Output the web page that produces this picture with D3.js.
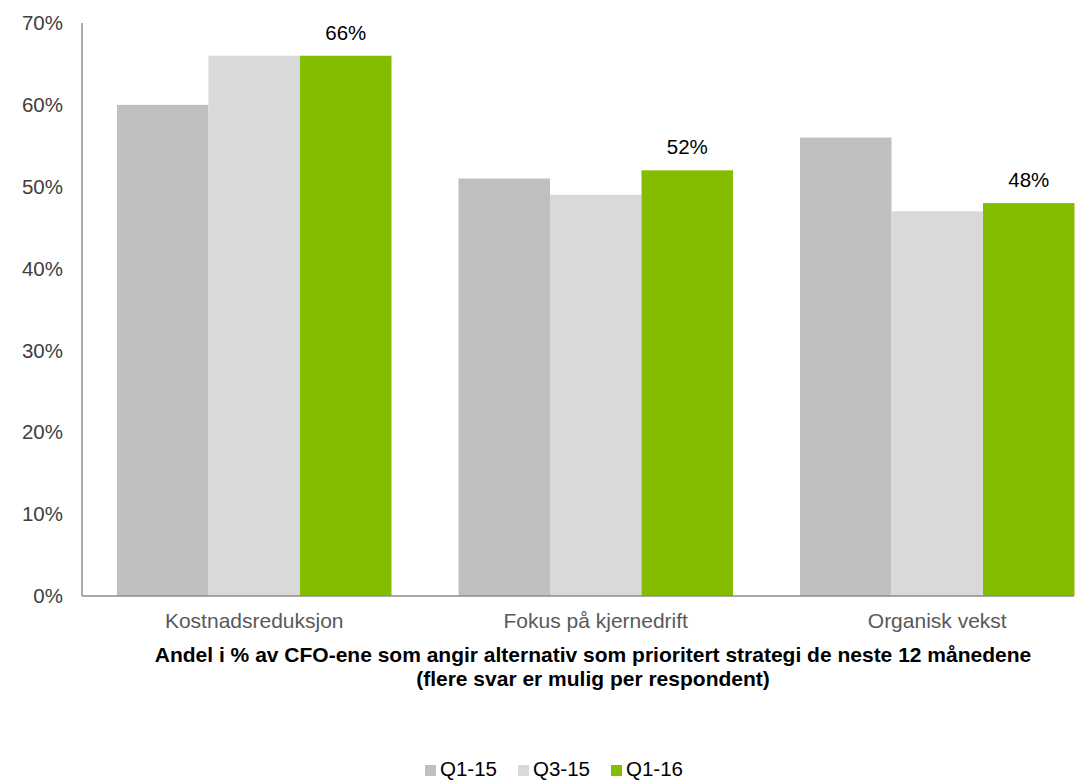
<!DOCTYPE html>
<html>
<head>
<meta charset="utf-8">
<script src="https://cdn.jsdelivr.net/npm/d3@7"></script>
<style>
  html, body { margin: 0; padding: 0; background: #fff; }
  svg { display: block; font-family: "Liberation Sans", Arial, sans-serif; }
</style>
</head>
<body>
<svg id="chart" width="1085" height="780"></svg>
<script>
// Strategies asked about in the survey
const categories = ["Kostnadsreduksjon", "Fokus på kjernedrift", "Organisk vekst"];
// Survey rounds
const seriesNames = ["Q1-15", "Q3-15", "Q1-16"];
// Share of CFOs (%) per round, one array per round
const q1_15 = [60, 51, 56];
const q3_15 = [66, 49, 47];
const q1_16 = [66, 52, 48];
const seriesValues = [q1_15, q3_15, q1_16];
// Y-axis tick labels
const yTicks = [0, 10, 20, 30, 40, 50, 60, 70];
const colors = ["#bfbfbf", "#d9d9d9", "#84bc00"];
const titleLines = [
  "Andel i % av CFO-ene som angir alternativ som prioritert strategi de neste 12 månedene",
  "(flere svar er mulig per respondent)"
];

const svg = d3.select("#chart");
const axisLeft = 82, axisRight = 1074;
const y = d3.scaleLinear().domain([0, 70]).range([596, 23]);

// Group placement: three bars side by side per category, groups evenly spaced
const gapRatio = 67 / 341.5;
const x0 = d3.scaleBand().domain(categories).range([83.5, 1108])
  .paddingInner(gapRatio).paddingOuter(gapRatio / 2);
const x1 = d3.scaleBand().domain(seriesNames).range([0, x0.bandwidth()]);

// Y tick labels (no gridlines, no tick marks)
svg.append("g").selectAll("text").data(yTicks).join("text")
  .attr("x", 63).attr("y", d => y(d))
  .attr("dy", "0.35em")
  .attr("text-anchor", "end")
  .attr("fill", "#404040")
  .style("font-size", "20.5px")
  .text(d => d + "%");

// Bars
const groups = svg.append("g").selectAll("g").data(categories).join("g")
  .attr("transform", c => `translate(${x0(c)},0)`);
groups.selectAll("rect")
  .data((c, i) => seriesNames.map((s, j) => ({ s, j, v: seriesValues[j][i] })))
  .join("rect")
  .attr("x", d => x1(d.s))
  .attr("y", d => y(d.v))
  .attr("width", x1.bandwidth())
  .attr("height", d => y(0) - y(d.v))
  .attr("fill", d => colors[d.j]);

// Value labels on the latest round
groups.append("text")
  .attr("x", x1("Q1-16") + x1.bandwidth() / 2)
  .attr("y", (c, i) => y(q1_16[i]) - 16)
  .attr("text-anchor", "middle")
  .attr("fill", "#000")
  .style("font-size", "20.5px")
  .text((c, i) => q1_16[i] + "%");

// Axis lines
svg.append("line").attr("x1", axisLeft).attr("x2", axisLeft).attr("y1", y(70)).attr("y2", y(0))
  .attr("stroke", "#8c8c8c").attr("stroke-width", 1.5);
svg.append("line").attr("x1", axisLeft).attr("x2", axisRight).attr("y1", y(0)).attr("y2", y(0))
  .attr("stroke", "#8c8c8c").attr("stroke-width", 1.5);

// Category labels
svg.append("g").selectAll("text").data(categories).join("text")
  .attr("x", c => x0(c) + x0.bandwidth() / 2)
  .attr("y", 628)
  .attr("text-anchor", "middle")
  .attr("fill", "#595959")
  .style("font-size", "21px")
  .text(c => c);

// Axis title
svg.append("g").selectAll("text").data(titleLines).join("text")
  .attr("x", 593)
  .attr("y", (d, i) => 662 + i * 24)
  .attr("text-anchor", "middle")
  .attr("fill", "#000")
  .style("font-size", "21px")
  .style("font-weight", "bold")
  .text(d => d);

// Legend
const legendX = [425, 518, 611];
const legend = svg.append("g").selectAll("g").data(seriesNames).join("g")
  .attr("transform", (d, i) => `translate(${legendX[i]},0)`);
legend.append("rect").attr("x", 0).attr("y", 765).attr("width", 11).attr("height", 11)
  .attr("fill", (d, i) => colors[i]);
legend.append("text").attr("x", 15).attr("y", 776)
  .attr("fill", "#000")
  .style("font-size", "20.5px")
  .text(d => d);
</script>
</body>
</html>
